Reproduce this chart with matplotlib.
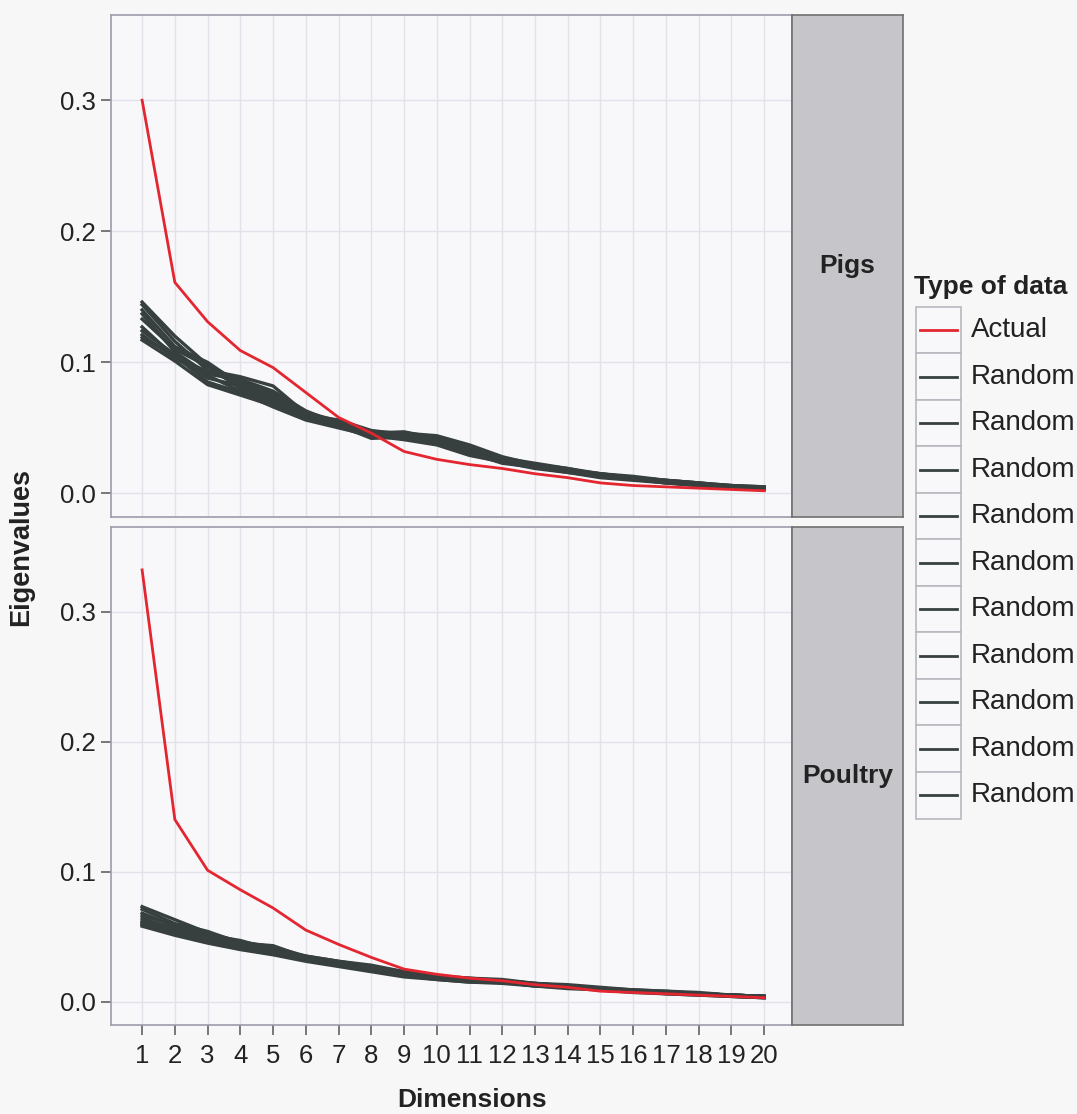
import matplotlib
matplotlib.use("Agg")
import matplotlib.pyplot as plt
from matplotlib.patches import Rectangle

plt.rcParams['font.family'] = ['Liberation Sans', 'DejaVu Sans']

# DATA
dims = list(range(1, 21))

pigs_actual = [0.300, 0.161, 0.131, 0.109, 0.096, 0.077, 0.058, 0.046, 0.032, 0.026,
               0.022, 0.019, 0.015, 0.012, 0.008, 0.006, 0.005, 0.004, 0.003, 0.002]

pigs_random = [
    [0.146, 0.120, 0.098, 0.085, 0.076, 0.062, 0.055, 0.047, 0.046, 0.044, 0.037, 0.028, 0.022, 0.019, 0.015, 0.013, 0.010, 0.008, 0.006, 0.005],
    [0.144, 0.116, 0.094, 0.089, 0.082, 0.061, 0.054, 0.046, 0.047, 0.042, 0.035, 0.027, 0.021, 0.018, 0.014, 0.012, 0.010, 0.008, 0.006, 0.004],
    [0.140, 0.112, 0.100, 0.083, 0.073, 0.060, 0.056, 0.048, 0.045, 0.041, 0.033, 0.026, 0.022, 0.018, 0.015, 0.012, 0.009, 0.007, 0.005, 0.004],
    [0.137, 0.108, 0.091, 0.087, 0.078, 0.063, 0.053, 0.045, 0.044, 0.040, 0.034, 0.027, 0.023, 0.019, 0.014, 0.011, 0.009, 0.007, 0.006, 0.005],
    [0.133, 0.110, 0.097, 0.080, 0.070, 0.058, 0.055, 0.047, 0.043, 0.039, 0.031, 0.025, 0.020, 0.017, 0.013, 0.012, 0.009, 0.007, 0.005, 0.004],
    [0.127, 0.104, 0.093, 0.084, 0.075, 0.061, 0.052, 0.044, 0.045, 0.043, 0.036, 0.026, 0.021, 0.018, 0.015, 0.012, 0.010, 0.008, 0.005, 0.004],
    [0.124, 0.106, 0.088, 0.082, 0.072, 0.059, 0.054, 0.046, 0.042, 0.038, 0.030, 0.024, 0.020, 0.016, 0.013, 0.011, 0.009, 0.006, 0.005, 0.003],
    [0.121, 0.103, 0.090, 0.078, 0.068, 0.057, 0.051, 0.043, 0.044, 0.041, 0.032, 0.025, 0.021, 0.017, 0.014, 0.011, 0.008, 0.007, 0.005, 0.004],
    [0.119, 0.105, 0.085, 0.077, 0.066, 0.056, 0.050, 0.044, 0.041, 0.037, 0.029, 0.024, 0.019, 0.016, 0.012, 0.010, 0.008, 0.006, 0.004, 0.003],
    [0.117, 0.101, 0.083, 0.075, 0.067, 0.058, 0.052, 0.042, 0.043, 0.039, 0.031, 0.023, 0.020, 0.017, 0.013, 0.011, 0.008, 0.006, 0.004, 0.003],
]

poultry_actual = [0.332, 0.140, 0.101, 0.086, 0.072, 0.055, 0.044, 0.034, 0.025, 0.021,
                  0.018, 0.016, 0.013, 0.011, 0.008, 0.007, 0.006, 0.005, 0.004, 0.003]

poultry_random = [
    [0.073, 0.063, 0.053, 0.046, 0.042, 0.035, 0.031, 0.027, 0.023, 0.020, 0.018, 0.017, 0.014, 0.013, 0.011, 0.009, 0.008, 0.007, 0.005, 0.004],
    [0.071, 0.060, 0.054, 0.045, 0.043, 0.034, 0.030, 0.026, 0.022, 0.019, 0.018, 0.016, 0.014, 0.012, 0.010, 0.009, 0.008, 0.006, 0.005, 0.004],
    [0.068, 0.058, 0.051, 0.047, 0.040, 0.035, 0.031, 0.028, 0.023, 0.020, 0.017, 0.016, 0.013, 0.012, 0.010, 0.009, 0.007, 0.006, 0.005, 0.004],
    [0.066, 0.059, 0.052, 0.044, 0.041, 0.034, 0.030, 0.026, 0.022, 0.019, 0.017, 0.016, 0.014, 0.012, 0.010, 0.008, 0.007, 0.006, 0.005, 0.004],
    [0.064, 0.056, 0.049, 0.043, 0.039, 0.033, 0.029, 0.025, 0.021, 0.018, 0.017, 0.015, 0.013, 0.011, 0.010, 0.008, 0.007, 0.006, 0.005, 0.004],
    [0.062, 0.057, 0.050, 0.045, 0.040, 0.034, 0.029, 0.026, 0.022, 0.019, 0.016, 0.016, 0.013, 0.012, 0.010, 0.008, 0.007, 0.006, 0.005, 0.004],
    [0.061, 0.054, 0.047, 0.042, 0.038, 0.033, 0.028, 0.024, 0.021, 0.018, 0.016, 0.015, 0.013, 0.011, 0.009, 0.008, 0.007, 0.006, 0.004, 0.003],
    [0.060, 0.053, 0.048, 0.043, 0.037, 0.032, 0.029, 0.025, 0.020, 0.018, 0.016, 0.015, 0.012, 0.011, 0.009, 0.008, 0.007, 0.006, 0.005, 0.004],
    [0.059, 0.052, 0.046, 0.041, 0.037, 0.032, 0.028, 0.024, 0.020, 0.017, 0.015, 0.015, 0.012, 0.011, 0.009, 0.008, 0.006, 0.005, 0.004, 0.003],
    [0.058, 0.051, 0.045, 0.040, 0.036, 0.031, 0.027, 0.023, 0.019, 0.017, 0.015, 0.014, 0.012, 0.010, 0.009, 0.007, 0.006, 0.005, 0.004, 0.003],
]

panels = ["Pigs", "Poultry"]
legend_labels = ["Actual"] + ["Random"] * 10
yticks = [0.0, 0.1, 0.2, 0.3]

# STYLE
RED = "#e3262f"
DARK = "#37403f"
PANEL_BG = "#f8f8fb"
FIG_BG = "#f7f7f7"
GRID = "#e2e2ea"
STRIP = "#c6c6ca"
TXT = "#222222"

W, H = 1077, 1114
fig = plt.figure(figsize=(W / 100, H / 100), dpi=100, facecolor=FIG_BG)


def px(x0, y0, x1, y1):
    # pixel box -> figure fraction [left, bottom, width, height]
    return [x0 / W, 1 - y1 / H, (x1 - x0) / W, (y1 - y0) / H]


panel_boxes = [(111, 15, 792, 517), (111, 527, 792, 1025)]
strip_boxes = [(792, 15, 903, 517), (792, 527, 903, 1025)]
data = [(pigs_actual, pigs_random), (poultry_actual, poultry_random)]

for i, name in enumerate(panels):
    ax = fig.add_axes(px(*panel_boxes[i]), facecolor=PANEL_BG)
    actual, randoms = data[i]
    for r in randoms:
        ax.plot(dims, r, color=DARK, lw=2.4, solid_joinstyle="round", zorder=3)
    ax.plot(dims, actual, color=RED, lw=2.0, zorder=4)

    ax.set_xlim(0.05, 20.85)
    ax.set_ylim(-0.018, 0.365)
    ax.set_xticks(dims)
    ax.set_yticks(yticks)
    ax.set_yticklabels(["0.0", "0.1", "0.2", "0.3"])
    ax.grid(True, color=GRID, lw=1.0, zorder=0)
    ax.set_axisbelow(True)
    for s in ax.spines.values():
        s.set_color("#9c9cab")
        s.set_linewidth(1.2)
    ax.tick_params(axis="both", length=7, width=1.1, color="#555555",
                   labelsize=18.5, labelcolor=TXT, pad=4)
    ax.tick_params(axis="x", pad=7)
    if i == 0:
        ax.tick_params(axis="x", bottom=False, labelbottom=False)

    # facet strip
    sax = fig.add_axes(px(*strip_boxes[i]), facecolor=STRIP)
    sax.set_xticks([])
    sax.set_yticks([])
    for s in sax.spines.values():
        s.set_color("#707070")
        s.set_linewidth(1.2)
    sax.text(0.5, 0.5, name, transform=sax.transAxes, ha="center", va="center",
             fontsize=19, fontweight="bold", color=TXT)

fig.text(21 / W, 1 - 547 / H, "Eigenvalues", rotation=90, ha="center", va="center",
         fontsize=19.5, fontweight="bold", color=TXT)
fig.text(472 / W, 1 - 1100 / H, "Dimensions", ha="center", va="center",
         fontsize=19, fontweight="bold", color=TXT)

# legend drawn in its own axes (pixel units)
lax = fig.add_axes(px(905, 265, W, 830))
lax.set_xlim(905, W)
lax.set_ylim(830, 265)
lax.axis("off")
lax.text(914, 287, "Type of data", ha="left", va="center", fontsize=19,
         fontweight="bold", color=TXT)
row_h = 46.5
top = 307
for k, lab in enumerate(legend_labels):
    y0 = top + k * row_h
    lax.add_patch(Rectangle((916, y0), 45, row_h, facecolor=PANEL_BG,
                            edgecolor="#b8b8c0", lw=1.2))
    yc = y0 + row_h / 2
    col = RED if lab == "Actual" else DARK
    lax.plot([920, 957], [yc, yc], color=col, lw=2.0)
    lax.text(971, yc, lab, ha="left", va="center", fontsize=20, color=TXT)

fig.savefig("out.png", dpi=100, facecolor=FIG_BG)
